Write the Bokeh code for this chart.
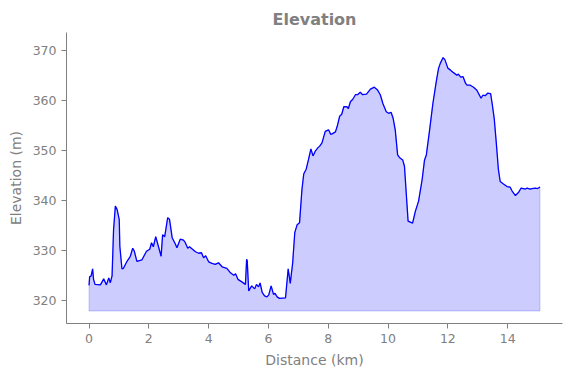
from bokeh.plotting import figure
from bokeh.models import Range1d, FixedTicker
from bokeh.embed import file_html
from bokeh.resources import INLINE

dist = [0.0, 0.02, 0.07, 0.12, 0.15, 0.2, 0.38, 0.49, 0.58, 0.66,
        0.71, 0.77, 0.82, 0.88, 0.94, 1.01, 1.03, 1.1, 1.15, 1.27,
        1.38, 1.46, 1.51, 1.6, 1.77, 1.92, 2.03, 2.09, 2.15, 2.23,
        2.3, 2.41, 2.46, 2.53, 2.63, 2.69, 2.78, 2.89, 2.94, 3.05,
        3.16, 3.22, 3.30, 3.36, 3.56, 3.67, 3.76, 3.83, 3.90, 4.0,
        4.11, 4.22, 4.33, 4.45, 4.61, 4.73, 4.84, 4.90, 4.98, 5.11,
        5.23, 5.27, 5.29, 5.34, 5.44, 5.54, 5.60, 5.67, 5.72, 5.79,
        5.87, 5.95, 6.01, 6.09, 6.17, 6.22, 6.29, 6.37, 6.57, 6.66,
        6.73, 6.81, 6.88, 6.96, 7.04, 7.12, 7.18, 7.22, 7.26, 7.34,
        7.42, 7.49, 7.56, 7.65, 7.72, 7.79, 7.90, 8.01, 8.08, 8.13,
        8.24, 8.30, 8.38, 8.45, 8.52, 8.63, 8.67, 8.74, 8.82, 8.91,
        8.98, 9.07, 9.15, 9.28, 9.41, 9.54, 9.64, 9.74, 9.83, 9.94,
        10.02, 10.10, 10.17, 10.24, 10.32, 10.38, 10.49, 10.55, 10.6, 10.67,
        10.82, 10.91, 11.02, 11.14, 11.22, 11.28, 11.39, 11.5, 11.62, 11.69,
        11.75, 11.84, 11.90, 12.0, 12.09, 12.19, 12.3, 12.35, 12.43, 12.51,
        12.59, 12.64, 12.75, 12.86, 12.97, 13.11, 13.17, 13.25, 13.33, 13.43,
        13.48, 13.55, 13.62, 13.69, 13.75, 13.86, 13.98, 14.08, 14.15, 14.26,
        14.36, 14.45, 14.60, 14.65, 14.75, 14.82, 14.92, 15.0, 15.08]

elev = [323.1, 324.8, 325.0, 326.4, 324.3, 323.3, 323.2, 324.4, 323.2, 324.6,
        323.6, 325.0, 334.2, 338.9, 338.2, 336.2, 330.9, 326.4, 326.5, 327.9,
        328.9, 330.5, 330.0, 327.9, 328.2, 329.9, 330.3, 331.6, 330.8, 332.8,
        331.3, 328.9, 333.2, 332.8, 336.6, 336.3, 332.6, 331.3, 330.6, 332.3,
        332.1, 331.6, 330.5, 330.8, 329.8, 329.5, 329.6, 328.6, 329.0, 327.8,
        327.5, 327.3, 327.6, 326.8, 326.5, 325.6, 325.1, 325.4, 324.3, 323.8,
        323.3, 328.3, 328.0, 322.0, 323.0, 322.4, 323.3, 322.8, 323.6, 321.7,
        321.0, 320.8, 321.2, 323.0, 321.3, 321.5, 320.8, 320.5, 320.6, 326.4,
        323.5, 327.6, 333.6, 335.2, 335.6, 342.2, 345.3, 345.8, 346.2, 348.2,
        350.3, 348.9, 349.8, 350.5, 350.9, 351.5, 353.8, 354.1, 353.2, 353.3,
        353.7, 354.8, 356.8, 357.2, 358.7, 358.7, 358.3, 359.7, 360.2, 361.1,
        361.1, 361.6, 361.1, 361.2, 362.2, 362.6, 362.1, 361.1, 359.3, 357.7,
        357.4, 357.6, 356.4, 354.1, 349.1, 348.6, 348.1, 346.8, 342.2, 335.9,
        335.5, 337.8, 339.9, 344.2, 348.1, 349.1, 354.1, 359.4, 364.0, 366.4,
        367.4, 368.5, 368.1, 366.4, 366.0, 365.5, 365.0, 365.2, 364.6, 364.7,
        363.4, 363.0, 363.0, 362.6, 362.0, 360.4, 361.0, 360.9, 361.4, 361.3,
        359.4, 356.4, 351.5, 346.2, 343.8, 343.3, 342.8, 342.7, 341.9, 341.0,
        341.6, 342.5, 342.3, 342.5, 342.3, 342.4, 342.5, 342.4, 342.7]

base_elev = 318.0
x_ticks = [0, 2, 4, 6, 8, 10, 12, 14]
y_ticks = [320, 330, 340, 350, 360, 370]

assert len(dist) == len(elev)

GRAY = "#808080"
FONT = "DejaVu Sans"

p = figure(width=563, height=370, output_backend="svg", toolbar_location=None,
           x_range=Range1d(-0.754, 15.834), y_range=Range1d(315.5, 373.5),
           min_border_left=66, min_border_right=1, min_border_top=32,
           min_border_bottom=46, title="Elevation")

p.title.align = "center"
p.title.text_font = FONT
p.title.text_font_size = "16px"
p.title.text_font_style = "bold"
p.title.text_color = GRAY
p.title.standoff = 8

p.outline_line_color = None
p.xgrid.visible = False
p.ygrid.visible = False
p.background_fill_color = "white"
p.border_fill_color = "white"

poly_x = dist + [dist[-1], dist[0]]
poly_y = elev + [base_elev, base_elev]
p.patch(poly_x, poly_y, fill_color="blue", fill_alpha=0.2,
        line_color="blue", line_alpha=0.2, line_width=1)
p.line(dist, elev, line_color="blue", line_width=1.3)

for ax, ticks, label in ((p.xaxis[0], x_ticks, "Distance (km)"),
                         (p.yaxis[0], y_ticks, "Elevation (m)")):
    ax.ticker = FixedTicker(ticks=ticks)
    ax.axis_label = label
    ax.axis_label_text_font = FONT
    ax.axis_label_text_font_size = "14px"
    ax.axis_label_text_font_style = "normal"
    ax.axis_label_text_color = GRAY
    ax.axis_line_color = GRAY
    ax.axis_line_width = 1
    ax.major_tick_line_color = GRAY
    ax.major_tick_out = 5
    ax.major_tick_in = 0
    ax.minor_tick_line_color = None
    ax.major_label_text_font = FONT
    ax.major_label_text_font_size = "12.5px"
    ax.major_label_text_color = GRAY
    ax.major_label_standoff = 5
    ax.axis_label_standoff = 6

open("out.html", "w").write(file_html(p, INLINE))
